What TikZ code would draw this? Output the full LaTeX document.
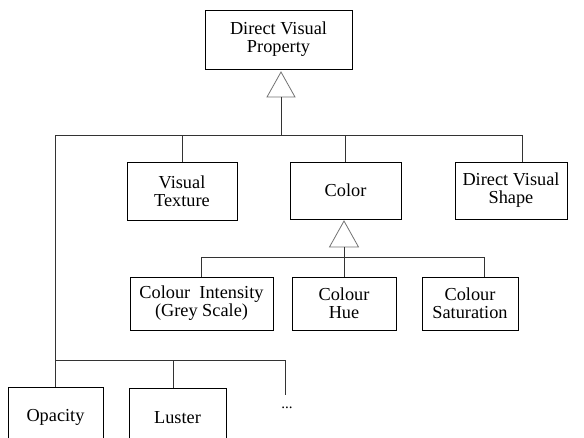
\documentclass[tikz,border=0pt]{standalone}
\usepackage{fontspec}
\setmainfont{Liberation Serif}

\begin{document}
\begin{tikzpicture}[x=1pt,y=-1pt,
    cls/.style={draw, line width=0.9pt, align=center, inner sep=0pt,
        font=\fontsize{18.3}{18}\selectfont},
    wire/.style={black!80, line width=0.9pt},
    gen/.style={draw=black!55, fill=white, line width=0.8pt}]

\useasboundingbox (0,0) rectangle (584,438);

% classes
\node[cls, minimum width=147pt, minimum height=59pt] (prop) at (278.5,39.5) {Direct Visual\\Property};
\node[cls, minimum width=110pt, minimum height=58pt] (texture) at (182,191) {Visual\\Texture};
\node[cls, minimum width=111pt, minimum height=57pt] (color) at (345.5,190.5) {Color};
\node[cls, minimum width=112pt, minimum height=57pt] (shape) at (511,190.5) {Direct Visual\\Shape};
\node[cls, minimum width=143pt, minimum height=53pt] (intensity) at (201.5,303.5) {Colour~ Intensity\\(Grey Scale)};
\node[cls, minimum width=104pt, minimum height=53pt] (hue) at (344,303.5) {Colour\\Hue};
\node[cls, minimum width=96pt, minimum height=53pt] (saturation) at (470,303.5) {Colour\\Saturation};
\node[cls, minimum width=95pt, minimum height=60pt] (opacity) at (55.5,417) {Opacity};
\node[cls, minimum width=97pt, minimum height=60pt] (luster) at (177.5,418) {Luster};
\node[anchor=base, font=\fontsize{15}{15}\selectfont] (dots) at (287,408) {...};

% points on the lines
\coordinate (baseA) at (281,97);
\coordinate (busA) at (281,135);
\coordinate (dropS) at (522,162);
\coordinate (baseB) at (344,247);
\coordinate (busC) at (344,257);
\coordinate (dropSat) at (484,277);
\coordinate (busB) at (285,360);
\coordinate (more) at (285,395);
\coordinate (dropL) at (173,388);

% generalisation triangles
\draw[gen] (281,72) -- ++(14,25) -- ++(-28,0) -- cycle;
\draw[gen] (344,221) -- ++(14.5,26) -- ++(-29,0) -- cycle;

% first level
\draw[wire] (baseA) -- (busA);
\draw[wire] (opacity.north) |- (busA -| dropS) -- (dropS);
\draw[wire] (texture.north) -- (texture.north |- busA);
\draw[wire] (color.north) -- (color.north |- busA);

% colour subclasses
\draw[wire] (baseB) -- (hue.north);
\draw[wire] (intensity.north) |- (busC -| dropSat) -- (dropSat);

% lower row
\draw[wire] (opacity.north |- busB) -- (busB) -- (more);
\draw[wire] (dropL) -- (dropL |- busB);

\end{tikzpicture}
\end{document}
